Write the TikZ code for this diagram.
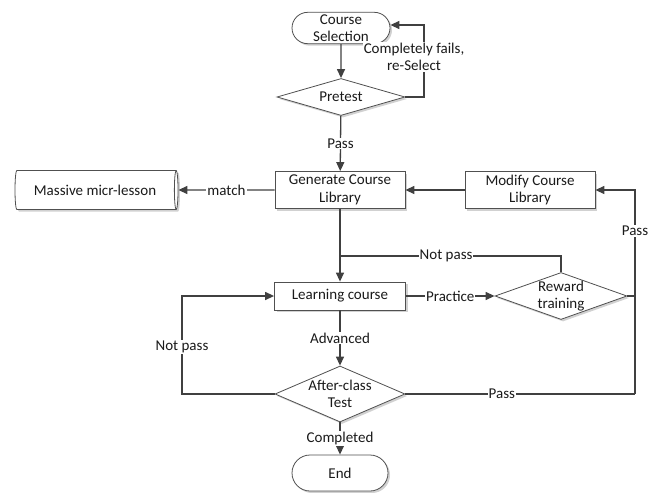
\documentclass[tikz,border=0pt]{standalone}
\usepackage{fontspec}
\setmainfont{Carlito}
\usetikzlibrary{shapes.geometric,shapes.misc,arrows.meta,shadows}
\definecolor{linec}{HTML}{404040}
\definecolor{boxc}{HTML}{505050}
\definecolor{txtc}{HTML}{1A1A1A}
\begin{document}
\begin{tikzpicture}[x=1pt,y=-1pt,
  every node/.style={font=\fontsize{15}{17.5}\selectfont, text=txtc},
  line/.style={draw=linec, line width=1.3pt},
  arr/.style={line, -{Triangle[length=9pt,width=8pt]}},
  shad/.style={drop shadow={shadow xshift=2pt, shadow yshift=-2pt, fill=black!18, opacity=1}},
  box/.style={draw=boxc, line width=0.8pt, fill=white, rectangle, minimum width=130pt, minimum height=37pt, align=center, inner sep=2pt, shad},
  term/.style={draw=boxc, line width=0.8pt, fill=white, rounded rectangle, minimum height=31pt, align=center, inner sep=2pt, shad},
  dia/.style={draw=boxc, line width=0.8pt, fill=white, diamond, inner sep=0pt, shad},
  lbl/.style={fill=white, inner sep=1pt, align=center},
  every label/.style={align=center, inner sep=0pt}
]
\useasboundingbox (0,0) rectangle (660,492);

\node[term, minimum width=102pt] (cs) at (341,28) {Course\\Selection};
\node[dia, minimum width=128pt, minimum height=37pt, label=center:{Pretest}] (pre) at (341,97) {};
\node[box] (gen) at (340,190) {Generate Course\\Library};
\node[draw=boxc, line width=0.8pt, fill=white, cylinder, shape aspect=0.25, minimum width=39pt, minimum height=163pt, inner sep=2pt, shad] (mm) at (95,190) {Massive micr-lesson};
\node[box] (mod) at (530,190) {Modify Course\\Library};
\node[box, minimum width=131pt, minimum height=28pt] (lc) at (340,296) {Learning course};
\node[dia, minimum width=132pt, minimum height=47pt, label=center:{Reward\\training}] (rt) at (561,296) {};
\node[dia, minimum width=130pt, minimum height=56pt, label=center:{After-class\\Test}] (act) at (340,394) {};
\node[term, minimum width=100pt, minimum height=36pt] (end) at (340,473) {End};

\coordinate (pr) at (424,97);
\coordinate (pb) at (635,394);
\coordinate (lb) at (182,394);
\coordinate (j1) at (340,256);

% top loop
\draw[arr] (cs) -- (pre);
\draw[arr] (pre.east) -- (pr) |- ([yshift=3pt]cs.east);
\node[lbl] (cf) at (414,57) {Completely fails,\\re-Select};

\draw[arr] (pre) -- node[lbl]{Pass} (gen);
\draw[arr] (gen) -- node[lbl]{match} (mm);
\draw[arr] (mod) -- (gen);
\draw[arr] (gen) -- (lc);
\draw[line] (rt.north) |- node[lbl, pos=0.76]{Not pass} (j1);
\draw[arr] (lc) -- node[lbl]{Practice} (rt);
\draw[arr] (lc) -- node[lbl]{Advanced} (act);
\draw[arr] (act.west) -- (lb) |- node[lbl, pos=0.24]{Not pass} (lc.west);
\draw[line] (act.east) -- node[lbl, pos=0.42]{Pass} (pb);
\draw[arr] (pb) |- node[lbl, pos=0.4]{Pass} (mod.east);
\draw[line] (rt.east) -- (rt.east -| pb);
\draw[arr] (act) -- node[lbl]{Completed} (end);
\end{tikzpicture}
\end{document}
